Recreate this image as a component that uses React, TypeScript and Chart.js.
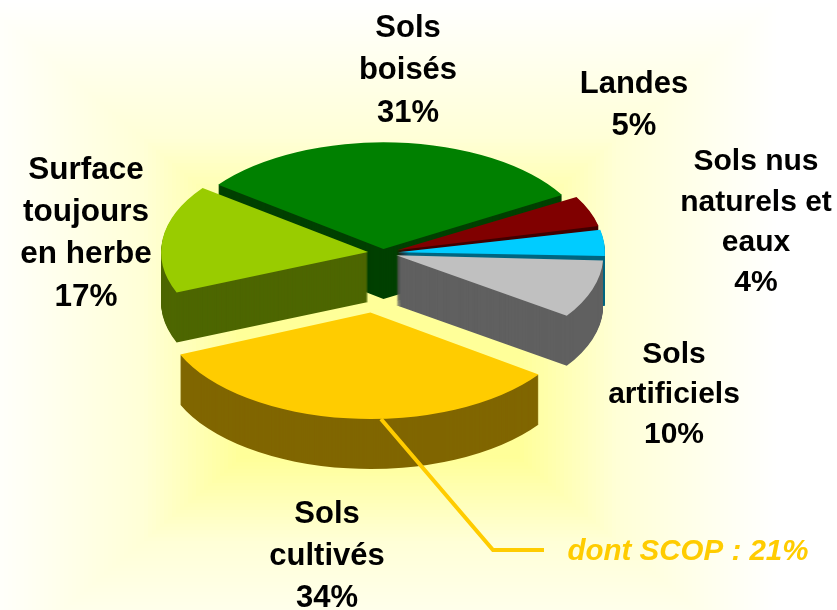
import React, { useEffect, useRef } from "react";
import { Chart, registerables } from "chart.js";

Chart.register(...registerables);

const categories = ["Sols boisés", "Landes", "Sols nus naturels et eaux", "Sols artificiels", "Sols cultivés", "Surface toujours en herbe"];
const shares = [31.3, 4.9, 4.2, 9.0, 34.1, 16.5];
const percentLabels = ["31%", "5%", "4%", "10%", "34%", "17%"];
const topColors = ["#008000", "#800000", "#00CCFF", "#C0C0C0", "#FFCC00", "#99CC00"];
const sideColors = ["#004000", "#400000", "#006680", "#606060", "#806600", "#4D6600"];
const explode = [32, 60, 60, 56, 464, 60];
const paintOrder = [0, 1, 2, 3, 5, 4];

const labelLines = [["Sols", "boisés"], ["Landes"], ["Sols nus", "naturels et", "eaux"], ["Sols", "artificiels"], ["Sols", "cultivés"], ["Surface", "toujours", "en herbe"]];
const labelAnchors = [[408, 28, 42.5, 31], [634, 84, 42, 31], [756, 162, 40.3, 30], [674, 355, 40, 30], [327, 514, 42, 31], [86, 170, 42.3, 31.5]];
const leaderPath = [[381, 419], [493, 550], [544, 550]];
const noteText = "dont SCOP : 21%";

const W = 837, H = 610, CX = 383, CY = 253, TILT = 0.515, DEPTH = 50, R = 207;
const FONT = "Liberation Sans, Arial, sans-serif";

const glowBlue = (t: number) => (t < 0.35 ? 153 : t < 0.6 ? 153 + (62 * (t - 0.35)) / 0.25 : 215 + (40 * (t - 0.6)) / 0.4);

const pie3d = {
  id: "pie3d",
  beforeDraw(chart: any) {
    const { ctx } = chart;
    ctx.save();
    ctx.fillStyle = "#ffffff";
    ctx.fillRect(0, 0, W, H);
    for (let s = 100; s > 0; s--) {
      const t = s / 100;
      ctx.fillStyle = `rgb(255,255,${Math.round(glowBlue(t))})`;
      ctx.fillRect(380 - 400 * t, 340 - 340 * t, 800 * t, 680 * t);
    }
    ctx.restore();
  },
  beforeDatasetDraw(chart: any) {
    const { ctx } = chart;
    const arcs = chart.getDatasetMeta(0).data;
    const inPlane = (dy: number, arc: any) => {
      ctx.save();
      ctx.translate(0, CY + dy);
      ctx.scale(1, TILT);
      ctx.translate(0, -CY);
      arc.draw(ctx);
      ctx.restore();
    };
    for (const i of paintOrder) {
      const arc = arcs[i];
      const base = arc.options;
      const baseR = arc.outerRadius;
      // Chart.js grows small exploded arcs; keep every slice at the same radius
      const fix = 1 - Math.sin(Math.min(Math.PI, arc.circumference));
      arc.outerRadius = baseR - (explode[i] / 4) * fix;
      arc.options = { ...base, backgroundColor: sideColors[i] };
      for (let d = DEPTH; d > 0; d--) inPlane(d, arc);
      arc.options = base;
      inPlane(0, arc);
      arc.outerRadius = baseR;
    }
    return false;
  },
  afterDraw(chart: any) {
    const { ctx } = chart;
    ctx.save();
    ctx.strokeStyle = "#FFCC00";
    ctx.lineWidth = 4;
    ctx.lineJoin = "miter";
    ctx.beginPath();
    leaderPath.forEach(([x, y], i) => (i ? ctx.lineTo(x, y) : ctx.moveTo(x, y)));
    ctx.stroke();

    ctx.textAlign = "center";
    ctx.textBaseline = "middle";
    ctx.fillStyle = "#000000";
    labelLines.forEach((lines, i) => {
      const [x, y, step, size] = labelAnchors[i];
      ctx.font = `bold ${size}px ${FONT}`;
      [...lines, percentLabels[i]].forEach((t, j) => ctx.fillText(t, x, y + j * step));
    });
    ctx.fillStyle = "#FFCC00";
    ctx.font = `italic bold 29.5px ${FONT}`;
    ctx.fillText(noteText, 688, 552);
    ctx.restore();
  },
};

export default function App() {
  const ref = useRef<HTMLCanvasElement>(null);
  useEffect(() => {
    const chart = new Chart(ref.current as HTMLCanvasElement, {
      type: "pie",
      data: {
        labels: categories,
        datasets: [{ data: shares, backgroundColor: topColors, offset: explode, borderWidth: 0, clip: false } as any],
      },
      options: {
        animation: false,
        responsive: false,
        radius: R,
        rotation: -53,
        layout: { padding: { right: W - 2 * CX, bottom: H - 2 * CY } },
        plugins: { legend: { display: false }, tooltip: { enabled: false } },
      } as any,
      plugins: [pie3d],
    });
    return () => chart.destroy();
  }, []);
  return (
    <div style={{ position: "absolute", left: 0, top: 0, width: W, height: H }}>
      <canvas ref={ref} width={W} height={H} style={{ display: "block" }} />
    </div>
  );
}
